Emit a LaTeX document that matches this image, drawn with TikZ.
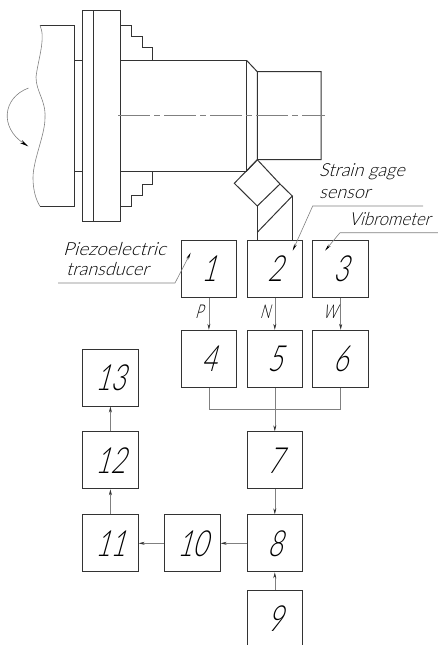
\documentclass[tikz,border=0pt]{standalone}
\usepackage{fontspec}
\usetikzlibrary{arrows.meta}
\newfontfamily\gost[FakeSlant=0.28,FakeStretch=1.0]{Lato Light}
\newfontfamily\gostnote[FakeSlant=0.28,FakeStretch=0.93]{Lato Light}
\newfontfamily\gostwide[FakeSlant=0.28,FakeStretch=1.05]{Lato Light}
\newfontfamily\gostnum[FakeSlant=0.28,FakeStretch=0.72]{Lato Light}
\definecolor{ink}{gray}{0.2}
\definecolor{thin}{gray}{0.5}
\tikzset{
 x=1pt,y=-1pt,
 part/.style={draw=ink,line width=1pt,line join=miter},
 numbox/.style={draw=ink,line width=1pt,minimum width=55.5pt,minimum height=57pt,inner sep=0pt,font=\gostnum\fontsize{36}{36}\selectfont,text=black},
 signal/.style={draw=thin,line width=0.6pt,-{Stealth[length=6pt,width=3pt,color=ink]}},
 bus/.style={draw=thin,line width=0.6pt},
 leader/.style={draw=thin,line width=0.6pt},
 note/.style={font=\gost\fontsize{18}{18}\selectfont,text=black,inner sep=0pt,anchor=west},
 sig/.style={font=\gostnum\fontsize{19}{19}\selectfont,text=black,inner sep=0pt},
}
\begin{document}
\begin{tikzpicture}
\useasboundingbox (0,0) rectangle (438,645);
% headstock
\draw[part] (40,25.3) -- (74,25.3) -- (74,206.3) -- (40,206.3);
\draw[part] (74,60.5) -- (82.7,60.5) (74,171) -- (82.7,171);
\draw[leader] (40,25.3) .. controls (46,38) and (38,60) .. (36,77) .. controls (36,92) and (46,100) .. (45,118) .. controls (45,135) and (33,160) .. (33,178) .. controls (33,190) and (36,200) .. (40,206.3);
% flange
\draw[part] (82.7,10) rectangle (120.7,221.3);
\draw[part] (93.5,10) -- (93.5,221.3);
% jaws
\draw[part] (120.7,25.3) -- (131.3,25.3) -- (131.3,36.7) -- (142.3,36.7) -- (142.3,47.7) -- (152.7,47.7) -- (152.7,60.5);
\draw[part] (120.7,206.3) -- (131.3,206.3) -- (131.3,195.3) -- (142.3,195.3) -- (142.3,184) -- (152.7,184) -- (152.7,171);
% workpiece
\draw[part] (120.7,60.5) -- (246.7,60.5) -- (246.7,171) -- (120.7,171);
\draw[part] (246.7,60.5) -- (257.3,71.7) -- (321,71.7) -- (321,159.7) -- (257.3,159.7) -- (257.3,71.7);
\draw[part] (246.7,171) -- (257.3,159.7);
% centre line
\draw[draw=thin,line width=0.6pt,dash pattern=on 32pt off 4pt on 6pt off 4pt] (118,115.7) -- (325,115.7);
% rotation arrow
\draw[leader,-{Stealth[length=9pt,width=3.5pt,color=black]}] (28.5,88) .. controls (2,98) and (0,128) .. (28.5,146.5);
% sensor
\draw[part] (257.3,159.7) -- (234.3,183.3) -- (257.3,206) -- (280,184) -- cycle;
\draw[part] (280,184) -- (292.3,196) -- (257.3,232.3);
\draw[part] (257.3,206) -- (257.3,240) (292.3,196) -- (292.3,240);
% boxes
\node[numbox] (n1) at (208.9,268.5) {1};
\node[numbox] (n2) at (274.8,268.5) {2};
\node[numbox] (n3) at (340.7,268.5) {3};
\node[numbox] (n4) at (208.9,358.8) {4};
\node[numbox] (n5) at (274.8,358.8) {5};
\node[numbox] (n6) at (340.7,358.8) {6};
\node[numbox] (n7) at (274.8,460.3) {7};
\node[numbox] (n8) at (274.8,543.3) {8};
\node[numbox] (n9) at (274.8,618.5) {9};
\node[numbox] (n10) at (192.4,543.3) {10};
\node[numbox] (n11) at (110.4,543.3) {11};
\node[numbox] (n12) at (110.4,460.3) {12};
\node[numbox] (n13) at (110.4,377.5) {13};
% signal arrows
\draw[signal] (n1) -- (n4);
\draw[signal] (n2) -- (n5);
\draw[signal] (n3) -- (n6);
\coordinate (busl) at (208.9,409);
\coordinate (busm) at (274.8,409);
\coordinate (busr) at (340.7,409);
\draw[bus] (n4.south) -- (busl) -- (busr) -- (n6.south);
\draw[bus] (n5.south) -- (busm);
\draw[signal] (busm) -- (n7.north);
\draw[signal] (n7) -- (n8);
\draw[signal] (n9) -- (n8);
\draw[signal] (n8) -- (n10);
\draw[signal] (n10) -- (n11);
\draw[signal] (n11) -- (n12);
\draw[signal] (n12) -- (n13);
% signal names
\node[sig] (lp) at (199,312) {P};
\node[sig] (ln) at (265,312) {N};
\node[sig] (lw) at (330,312) {W};
% notes
\node[note] (t1) at (319,172) {Strain gage};
\node[note] (t2) at (319,194) {sensor};
\node[note,font=\gostnote\fontsize{18}{18}\selectfont] (t3) at (349,219) {Vibrometer};
\node[note,font=\gostwide\fontsize{18}{18}\selectfont] (t4) at (63,249) {Piezoelectric};
\node[note] (t5) at (66,269) {transducer};
\coordinate (l1a) at (423,206);
\coordinate (l1b) at (312.7,206);
\coordinate (l1c) at (292.7,250.7);
\coordinate (l2a) at (438,232.7);
\coordinate (l2b) at (340,232.7);
\coordinate (l2c) at (325,250.7);
\coordinate (l3a) at (58,283);
\coordinate (l3b) at (175,283);
\coordinate (l3c) at (190.7,252.7);
\draw[leader,-{Stealth[length=7pt,width=2.6pt,color=black]}] (l1a) -- (l1b) -- (l1c);
\draw[leader,-{Stealth[length=7pt,width=2.6pt,color=black]}] (l2a) -- (l2b) -- (l2c);
\draw[leader,-{Stealth[length=7pt,width=2.6pt,color=black]}] (l3a) -- (l3b) -- (l3c);
\end{tikzpicture}
\end{document}
